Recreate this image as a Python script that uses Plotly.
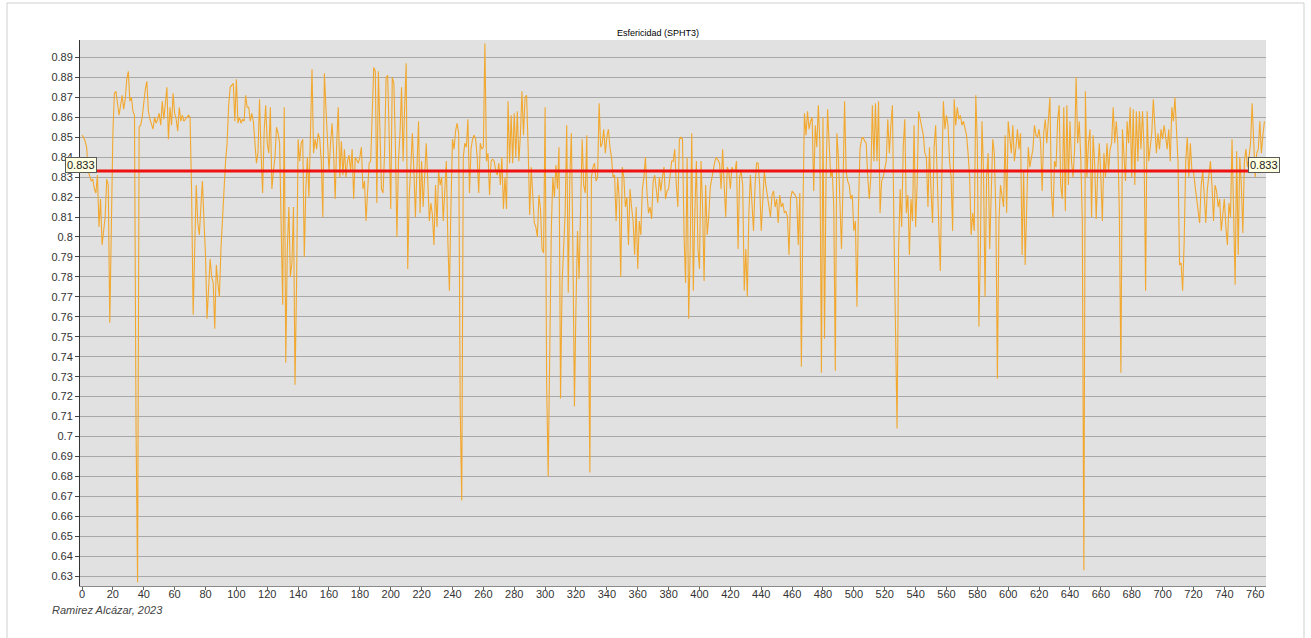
import plotly.graph_objects as go

# Sphericity (SPHT3) per sample, index 0..766
sphericity = [
    0.851, 0.850, 0.848, 0.845, 0.833, 0.830, 0.828, 0.829, 0.824, 0.822,
    0.831, 0.805, 0.819, 0.796, 0.803, 0.810, 0.829, 0.826, 0.757, 0.800,
    0.852, 0.872, 0.873, 0.867, 0.861, 0.866, 0.871, 0.864, 0.869, 0.879,
    0.883, 0.868, 0.870, 0.863, 0.861, 0.704, 0.627, 0.855, 0.856, 0.860,
    0.868, 0.874, 0.878, 0.863, 0.859, 0.857, 0.854, 0.860, 0.857, 0.859,
    0.862, 0.856, 0.868, 0.859, 0.866, 0.875, 0.849, 0.865, 0.856, 0.872,
    0.862, 0.859, 0.853, 0.865, 0.858, 0.861, 0.858, 0.859, 0.860, 0.861,
    0.860, 0.822, 0.761, 0.801, 0.826, 0.807, 0.801, 0.815, 0.828, 0.808,
    0.791, 0.759, 0.773, 0.789, 0.780, 0.777, 0.754, 0.786, 0.777, 0.770,
    0.794, 0.810, 0.826, 0.838, 0.847, 0.866, 0.875, 0.876, 0.877, 0.858,
    0.879, 0.857, 0.860, 0.857, 0.859, 0.858, 0.871, 0.865, 0.865, 0.858,
    0.862, 0.858, 0.847, 0.837, 0.842, 0.869, 0.842, 0.822, 0.853, 0.866,
    0.847, 0.842, 0.865, 0.824, 0.833, 0.840, 0.855, 0.852, 0.847, 0.794,
    0.766, 0.865, 0.737, 0.794, 0.815, 0.780, 0.787, 0.815, 0.726, 0.777,
    0.849, 0.838, 0.847, 0.849, 0.790, 0.824, 0.840, 0.820, 0.847, 0.884,
    0.842, 0.849, 0.844, 0.852, 0.849, 0.838, 0.810, 0.882, 0.865, 0.850,
    0.833, 0.847, 0.857, 0.842, 0.819, 0.847, 0.865, 0.830, 0.848, 0.831,
    0.844, 0.830, 0.838, 0.841, 0.833, 0.844, 0.819, 0.840, 0.838, 0.837,
    0.840, 0.845, 0.824, 0.828, 0.808, 0.820, 0.837, 0.838, 0.865, 0.885,
    0.883, 0.817, 0.883, 0.847, 0.824, 0.822, 0.842, 0.880, 0.881, 0.850,
    0.814, 0.880, 0.877, 0.847, 0.800, 0.838, 0.852, 0.875, 0.838, 0.865,
    0.887, 0.784, 0.821, 0.835, 0.852, 0.833, 0.810, 0.835, 0.858, 0.812,
    0.838, 0.815, 0.830, 0.847, 0.828, 0.808, 0.817, 0.811, 0.796, 0.826,
    0.805, 0.833, 0.826, 0.830, 0.808, 0.822, 0.838, 0.798, 0.773, 0.815,
    0.849, 0.844, 0.853, 0.857, 0.852, 0.714, 0.668, 0.840, 0.847, 0.845,
    0.859, 0.822, 0.844, 0.849, 0.851, 0.849, 0.840, 0.822, 0.847, 0.844,
    0.845, 0.897, 0.838, 0.842, 0.821, 0.838, 0.839, 0.838, 0.833, 0.831,
    0.837, 0.826, 0.840, 0.814, 0.830, 0.814, 0.868, 0.837, 0.861, 0.837,
    0.862, 0.840, 0.863, 0.838, 0.851, 0.873, 0.851, 0.870, 0.871, 0.845,
    0.811, 0.835, 0.819, 0.807, 0.805, 0.800, 0.821, 0.814, 0.794, 0.792,
    0.865, 0.726, 0.680, 0.742, 0.803, 0.830, 0.820, 0.836, 0.824, 0.845,
    0.719, 0.777, 0.796, 0.812, 0.856, 0.772, 0.830, 0.852, 0.794, 0.715,
    0.766, 0.803, 0.779, 0.812, 0.849, 0.826, 0.822, 0.851, 0.759, 0.682,
    0.830, 0.835, 0.837, 0.828, 0.830, 0.867, 0.845, 0.847, 0.854, 0.842,
    0.850, 0.854, 0.845, 0.840, 0.830, 0.831, 0.808, 0.830, 0.819, 0.780,
    0.835, 0.830, 0.815, 0.820, 0.796, 0.824, 0.815, 0.808, 0.791, 0.815,
    0.784, 0.808, 0.801, 0.824, 0.830, 0.840, 0.822, 0.812, 0.815, 0.809,
    0.828, 0.831, 0.824, 0.817, 0.830, 0.823, 0.830, 0.835, 0.819, 0.823,
    0.824, 0.830, 0.838, 0.838, 0.844, 0.826, 0.815, 0.849, 0.850, 0.849,
    0.801, 0.777, 0.840, 0.759, 0.794, 0.852, 0.773, 0.812, 0.838, 0.794,
    0.784, 0.838, 0.815, 0.778, 0.826, 0.801, 0.810, 0.825, 0.830, 0.833,
    0.838, 0.840, 0.838, 0.837, 0.824, 0.844, 0.826, 0.810, 0.835, 0.833,
    0.824, 0.835, 0.833, 0.833, 0.838, 0.794, 0.830, 0.833, 0.826, 0.773,
    0.794, 0.770, 0.812, 0.831, 0.817, 0.803, 0.826, 0.837, 0.837, 0.826,
    0.803, 0.819, 0.833, 0.826, 0.820, 0.814, 0.810, 0.821, 0.823, 0.815,
    0.819, 0.807, 0.821, 0.815, 0.817, 0.812, 0.813, 0.810, 0.791, 0.819,
    0.823, 0.822, 0.821, 0.819, 0.796, 0.822, 0.735, 0.812, 0.862, 0.851,
    0.863, 0.854, 0.858, 0.860, 0.823, 0.856, 0.845, 0.866, 0.847, 0.732,
    0.860, 0.749, 0.830, 0.864, 0.847, 0.830, 0.833, 0.815, 0.733, 0.852,
    0.840, 0.812, 0.794, 0.826, 0.868, 0.833, 0.828, 0.826, 0.819, 0.821,
    0.803, 0.808, 0.765, 0.815, 0.844, 0.849, 0.850, 0.848, 0.847, 0.830,
    0.819, 0.830, 0.866, 0.838, 0.867, 0.838, 0.868, 0.812, 0.828, 0.830,
    0.835, 0.838, 0.859, 0.842, 0.856, 0.866, 0.803, 0.745, 0.704, 0.794,
    0.824, 0.805, 0.845, 0.859, 0.812, 0.821, 0.791, 0.819, 0.808, 0.856,
    0.805, 0.826, 0.863, 0.859, 0.854, 0.851, 0.842, 0.840, 0.815, 0.845,
    0.823, 0.807, 0.845, 0.856, 0.830, 0.803, 0.783, 0.830, 0.868, 0.854,
    0.861, 0.856, 0.838, 0.830, 0.803, 0.869, 0.856, 0.865, 0.859, 0.861,
    0.856, 0.858, 0.854, 0.851, 0.842, 0.830, 0.801, 0.812, 0.803, 0.871,
    0.847, 0.755, 0.794, 0.858, 0.833, 0.770, 0.830, 0.842, 0.794, 0.830,
    0.849, 0.842, 0.812, 0.729, 0.808, 0.826, 0.821, 0.815, 0.851, 0.812,
    0.858, 0.851, 0.842, 0.856, 0.838, 0.845, 0.854, 0.844, 0.852, 0.791,
    0.833, 0.786, 0.821, 0.845, 0.835, 0.840, 0.844, 0.856, 0.851, 0.850,
    0.854, 0.847, 0.823, 0.852, 0.859, 0.847, 0.861, 0.870, 0.823, 0.810,
    0.838, 0.835, 0.858, 0.866, 0.826, 0.819, 0.865, 0.813, 0.866, 0.826,
    0.858, 0.838, 0.830, 0.844, 0.880, 0.847, 0.858, 0.840, 0.808, 0.633,
    0.873, 0.830, 0.847, 0.854, 0.810, 0.851, 0.837, 0.809, 0.833, 0.847,
    0.830, 0.808, 0.842, 0.830, 0.847, 0.833, 0.844, 0.847, 0.865, 0.847,
    0.858, 0.847, 0.812, 0.732, 0.854, 0.842, 0.828, 0.858, 0.847, 0.865,
    0.830, 0.864, 0.826, 0.863, 0.838, 0.863, 0.844, 0.863, 0.845, 0.773,
    0.863, 0.838, 0.847, 0.852, 0.869, 0.856, 0.842, 0.852, 0.844, 0.854,
    0.849, 0.856, 0.850, 0.844, 0.854, 0.838, 0.865, 0.858, 0.870, 0.856,
    0.838, 0.786, 0.787, 0.773, 0.798, 0.838, 0.850, 0.830, 0.847, 0.833,
    0.833, 0.826, 0.819, 0.812, 0.807, 0.826, 0.833, 0.821, 0.807, 0.824,
    0.830, 0.838, 0.826, 0.808, 0.826, 0.823, 0.815, 0.819, 0.803, 0.812,
    0.819, 0.805, 0.796, 0.817, 0.810, 0.849, 0.805, 0.776, 0.843, 0.791,
    0.840, 0.826, 0.802, 0.838, 0.844, 0.835, 0.840, 0.847, 0.867, 0.847,
    0.830, 0.842, 0.844, 0.858, 0.842, 0.851, 0.858,
]
sample_index = list(range(len(sphericity)))

mean_value = 0.833

y_tick_values = [round(0.63 + 0.01 * k, 2) for k in range(27)]
y_tick_labels = [f"{v:g}" for v in y_tick_values]
x_tick_values = list(range(0, 761, 20))

title_text = "Esfericidad (SPHT3)"
credit_text = "Ramirez Alcázar, 2023"

FONT = "Liberation Sans, Arial, sans-serif"

fig = go.Figure()
fig.add_trace(go.Scatter(
    x=sample_index,
    y=sphericity,
    mode="lines",
    line=dict(color="#f2a82e", width=1.1),
    hoverinfo="x+y",
    showlegend=False,
))

# plot-area geometry (pixels) used to place the decorations
W, H = 1311, 638
L, R, T, B = 80, 45, 40, 52
pw, ph = W - L - R, H - T - B


def px_x(px):
    return (px - L) / pw


def px_y(py):
    return (H - B - py) / ph


shapes = [
    # mean line
    dict(type="line", xref="paper", yref="y", x0=0, x1=1,
         y0=mean_value, y1=mean_value,
         line=dict(color="#ee1111", width=3), layer="above"),
    # outer frame
    dict(type="rect", xref="paper", yref="paper",
         x0=px_x(7), x1=px_x(1304), y0=px_y(645), y1=px_y(3),
         line=dict(color="#cfcfcf", width=1), layer="below"),
]

label_style = dict(
    xref="paper", yref="y", y=mean_value, showarrow=False,
    bgcolor="#ffffe1", bordercolor="#5a5a5a", borderwidth=1, borderpad=1,
    font=dict(family=FONT, size=11, color="#222"), yshift=6,
)
annotations = [
    dict(text=f"{mean_value:.3f}", x=px_x(81), xanchor="center", **label_style),
    dict(text=f"{mean_value:.3f}", x=px_x(1264), xanchor="center", **label_style),
    dict(text=title_text, xref="paper", yref="paper", x=px_x(658), y=px_y(33),
         xanchor="center", yanchor="middle", showarrow=False,
         font=dict(family=FONT, size=9, color="#000")),
    dict(text=f"<i>{credit_text}</i>", xref="paper", yref="paper",
         x=px_x(50), y=px_y(610), xanchor="left", yanchor="middle",
         showarrow=False, font=dict(family=FONT, size=11, color="#444")),
]

fig.update_layout(
    width=W, height=H,
    margin=dict(l=L, r=R, t=T, b=B),
    paper_bgcolor="white",
    plot_bgcolor="#e1e1e1",
    font=dict(family=FONT, size=11, color="#333"),
    shapes=shapes,
    annotations=annotations,
    showlegend=False,
    xaxis=dict(
        range=[-1.3, 767],
        tickvals=x_tick_values,
        ticks="outside", ticklen=3, tickcolor="#666",
        ticklabelstandoff=-5,
        showgrid=False, zeroline=False,
        showline=True, linecolor="#8a8a8a", linewidth=1,
        tickfont=dict(family=FONT, size=11, color="#333"),
    ),
    yaxis=dict(
        range=[0.6251, 0.8987],
        tickvals=y_tick_values,
        ticktext=y_tick_labels,
        ticks="outside", ticklen=4, tickcolor="#444",
        showgrid=True, gridcolor="#a8a8a8", gridwidth=1,
        zeroline=False,
        showline=True, linecolor="#333", linewidth=1,
        tickfont=dict(family=FONT, size=11, color="#333"),
    ),
)

fig.write_html("out.html")
